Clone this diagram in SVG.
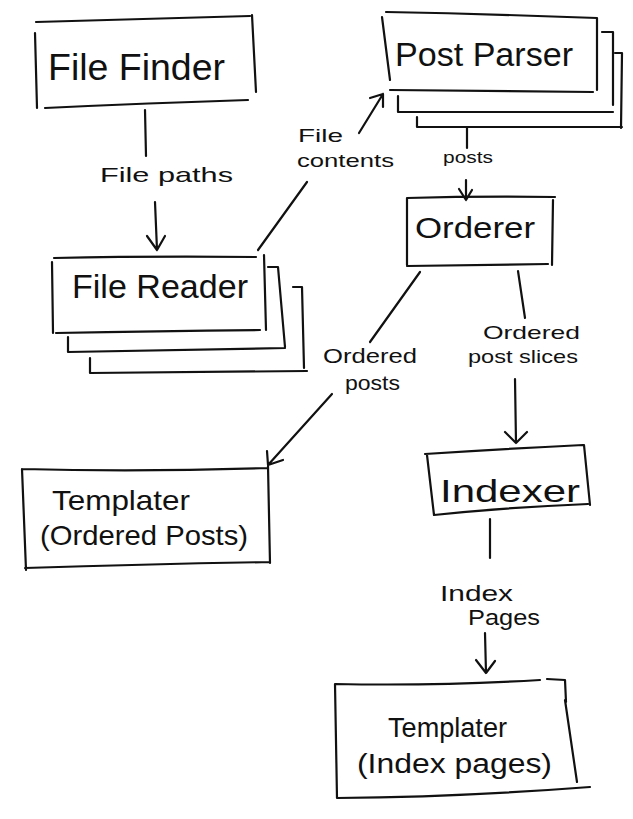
<svg xmlns="http://www.w3.org/2000/svg" width="633" height="819" viewBox="0 0 633 819">
<style>
.s{fill:none;stroke:#111;stroke-width:2.2;stroke-linecap:round;stroke-linejoin:round}
.t{font-family:"Liberation Sans",Arial,sans-serif;fill:#111;text-anchor:start}
</style>
<rect width="633" height="819" fill="#fff"/>
<g id="connectors" class="s">
<path d="M145 110 L146 156"/>
<path d="M155 202 L157 250 M147 236 L157 250 L165 236"/>
<path d="M258 250 L307 182"/>
<path d="M359 133 L383 94 M370 98 L383 94 L383 107"/>
<path d="M467 128 L467 148"/>
<path d="M466 180 L466 200 M459 189 L466 200 L472 190"/>
<path d="M420 272 L370 342"/>
<path d="M332 394 L268 465 M267 451 L268 465 L283 460"/>
<path d="M518 271 L525 318"/>
<path d="M515 379 L516 443 M505 432 L516 443 L527 432"/>
<path d="M490 519 L490 558"/>
<path d="M485 633 L486 673 M476 660 L486 673 L495 661"/>
</g>
<g id="labels" class="t">
<text x="100" y="182" font-size="21" textLength="133" lengthAdjust="spacingAndGlyphs">File paths</text>
<text x="298" y="142" font-size="19" textLength="45" lengthAdjust="spacingAndGlyphs">File</text>
<text x="297" y="167" font-size="19" textLength="97" lengthAdjust="spacingAndGlyphs">contents</text>
<text x="443" y="163" font-size="17" textLength="50" lengthAdjust="spacingAndGlyphs">posts</text>
<text x="323" y="363" font-size="21" textLength="94" lengthAdjust="spacingAndGlyphs">Ordered</text>
<text x="345" y="390" font-size="21" textLength="55" lengthAdjust="spacingAndGlyphs">posts</text>
<text x="483" y="339" font-size="19" textLength="97" lengthAdjust="spacingAndGlyphs">Ordered</text>
<text x="468" y="363" font-size="19" textLength="110" lengthAdjust="spacingAndGlyphs">post slices</text>
<text x="440" y="601" font-size="22" textLength="73" lengthAdjust="spacingAndGlyphs">Index</text>
<text x="468" y="625" font-size="22" textLength="72" lengthAdjust="spacingAndGlyphs">Pages</text>
</g>
<g id="file-finder">
<path class="s" d="M36 22 Q140 19 250 16 M35 33 L37 108 M252 15 L256 92 M45 108 Q150 103 248 100"/>
<text class="t" x="48" y="80" font-size="36" textLength="177" lengthAdjust="spacingAndGlyphs">File Finder</text>
</g>
<g id="post-parser">
<path class="s" d="M386 12 Q490 14 597 18 M382 17 L390 80 M597 18 L597 90 M390 90 Q490 91 593 92"/>
<path class="s" d="M602 32 L613 32 L613 105 M398 96 L398 112 L613 112"/>
<path class="s" d="M615 53 L622 53 L621 128 M417 117 L417 127 L622 127"/>
<text class="t" x="395" y="66" font-size="34" textLength="178" lengthAdjust="spacingAndGlyphs">Post Parser</text>
</g>
<g id="file-reader">
<path class="s" d="M54 258 Q150 256 256 257 M52 262 L53 333 M264 255 L266 330 M56 333 Q160 331 260 330"/>
<path class="s" d="M268 267 L278 267 L285 347 M68 337 L68 352 L285 348"/>
<path class="s" d="M293 287 L302 287 L304 368 M90 358 L90 373 L307 371"/>
<text class="t" x="72" y="298" font-size="34" textLength="176" lengthAdjust="spacingAndGlyphs">File Reader</text>
</g>
<g id="orderer">
<path class="s" d="M407 198 Q480 196 555 197 M407 198 L407 265 M553 200 L552 265 M407 266 Q480 265 548 264"/>
<text class="t" x="415" y="238" font-size="30" textLength="120" lengthAdjust="spacingAndGlyphs">Orderer</text>
</g>
<g id="templater-ordered-posts">
<path class="s" d="M22 469 Q140 472 267 468 M22 469 L26 570 M268 466 L270 563 M25 568 Q150 564 270 562"/>
<text class="t" x="52" y="510" font-size="28" textLength="138" lengthAdjust="spacingAndGlyphs">Templater</text>
<text class="t" x="40" y="545" font-size="28" textLength="208" lengthAdjust="spacingAndGlyphs">(Ordered Posts)</text>
</g>
<g id="indexer">
<path class="s" d="M425 454 Q500 449 583 445 M427 455 L434 515 M584 445 L590 505 M434 515 Q510 507 588 504"/>
<text class="t" x="440" y="502" font-size="32" textLength="140" lengthAdjust="spacingAndGlyphs">Indexer</text>
</g>
<g id="templater-index-pages">
<path class="s" d="M335 684 Q440 686 540 680 M547 679 L565 680 L566 702 M335 684 L337 798 M565 700 L577 782 M337 798 Q460 797 590 787"/>
<text class="t" x="388" y="737" font-size="27" textLength="119" lengthAdjust="spacingAndGlyphs">Templater</text>
<text class="t" x="357" y="773" font-size="27" textLength="195" lengthAdjust="spacingAndGlyphs">(Index pages)</text>
</g>
</svg>
